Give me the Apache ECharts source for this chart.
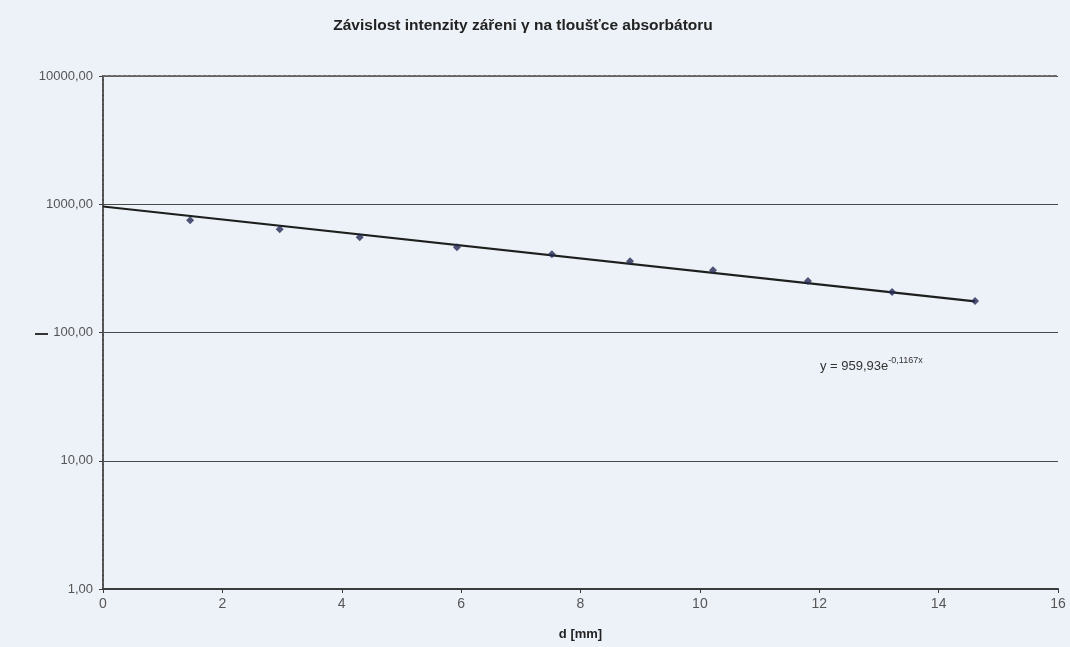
<!DOCTYPE html>
<html>
<head>
<meta charset="utf-8">
<script src="https://cdn.jsdelivr.net/npm/echarts@6/dist/echarts.min.js"></script>
<style>
    html, body { margin: 0; padding: 0; background: #edf1f8; }
    #chart { width: 1070px; height: 647px; }
</style>
</head>
<body>
<div id="chart"></div>
<script>
    // naměřené body (d v mm, intenzita)
    var thickness = [1.46, 2.96, 4.30, 5.93, 7.52, 8.83, 10.22, 11.81, 13.22, 14.61];
    var intensity = [751, 639, 553, 462, 408, 360, 306, 252, 207, 176];

    // exponenciální trend - koncové body
    var trendX = [0, 14.61];
    var trendY = [960, 175];

    var xTicks = [0, 2, 4, 6, 8, 10, 12, 14, 16];
    var yTicks = [1, 10, 100, 1000, 10000];

    var font = '"Liberation Sans", Arial, sans-serif';
    var narrow = '"Liberation Sans Narrow", "Liberation Sans", Arial, sans-serif';
    var axisColor = '#3a3a3a';

    function fmt(v) {
        return v.toFixed(2).replace('.', ',');
    }

    var myChart = echarts.init(document.getElementById('chart'));
    myChart.setOption({
        backgroundColor: '#edf1f8',
        animation: false,
        title: {
            text: 'Závislost intenzity zářeni γ na tloušťce absorbátoru',
            left: 518,
            top: 13,
            textAlign: 'center',
            textStyle: { fontFamily: font, fontSize: 15.5, fontWeight: 'bold', color: '#222' }
        },
        grid: { left: 103, right: 12, top: 76, bottom: 58, show: false, outerBoundsMode: 'none', containLabel: false },
        xAxis: [
            {
                type: 'value',
                min: xTicks[0],
                max: xTicks[xTicks.length - 1],
                interval: 2,
                name: 'd [mm]',
                nameLocation: 'middle',
                nameGap: 39,
                nameTextStyle: { fontFamily: font, fontSize: 13, fontWeight: 'bold', color: '#222' },
                axisLine: { show: true, lineStyle: { color: axisColor, width: 2, type: [3, 1] } },
                axisTick: { show: true, length: 4, lineStyle: { color: axisColor } },
                axisLabel: { fontFamily: narrow, fontSize: 14, color: '#555', margin: 8 },
                splitLine: { show: false }
            },
            {
                type: 'value',
                position: 'top',
                min: xTicks[0],
                max: xTicks[xTicks.length - 1],
                interval: 2,
                axisLine: { show: true, lineStyle: { color: '#666', width: 2, type: [3, 2] } },
                axisTick: { show: false },
                axisLabel: { show: false },
                splitLine: { show: false }
            }
        ],
        yAxis: [
            {
                type: 'log',
                logBase: 10,
                min: yTicks[0],
                max: yTicks[yTicks.length - 1],
                axisLine: { show: true, lineStyle: { color: axisColor, width: 2, type: [3, 1] } },
                axisTick: { show: true, length: 4, lineStyle: { color: axisColor } },
                minorTick: { show: false },
                axisLabel: {
                    fontFamily: font, fontSize: 13, color: '#555', margin: 10,
                    formatter: function (v) { return fmt(v); }
                },
                splitLine: { show: true, lineStyle: { color: '#4a4a4a', width: 1.2 } }
            },
            {
                type: 'log',
                logBase: 10,
                position: 'right',
                min: yTicks[0],
                max: yTicks[yTicks.length - 1],
                axisLine: { show: true, lineStyle: { color: '#666', width: 1.5, type: [3, 2] } },
                axisTick: { show: false },
                axisLabel: { show: false },
                splitLine: { show: false }
            }
        ],
        series: [
            {
                name: 'trend',
                type: 'line',
                data: trendX.map(function (x, i) { return [x, trendY[i]]; }),
                symbol: 'none',
                lineStyle: { color: '#1c1f1c', width: 2.2 },
                z: 3
            },
            {
                name: 'intenzita',
                type: 'scatter',
                data: thickness.map(function (x, i) { return [x, intensity[i]]; }),
                symbol: 'diamond',
                symbolSize: 8,
                itemStyle: { color: '#262b55' },
                z: 4
            }
        ],
        graphic: [
            {
                type: 'text',
                left: 820,
                top: 356,
                style: {
                    text: '{b|y = 959,93e}{s|-0,1167x}',
                    rich: {
                        b: { fontFamily: font, fontSize: 13, fill: '#333', verticalAlign: 'bottom' },
                        s: { fontFamily: narrow, fontSize: 9, fill: '#333', padding: [0, 0, 8, 0], verticalAlign: 'bottom' }
                    }
                }
            },
            {
                type: 'rect',
                shape: { x: 35, y: 333, width: 13, height: 2 },
                style: { fill: '#333' }
            }
        ]
    });
</script>
</body>
</html>
